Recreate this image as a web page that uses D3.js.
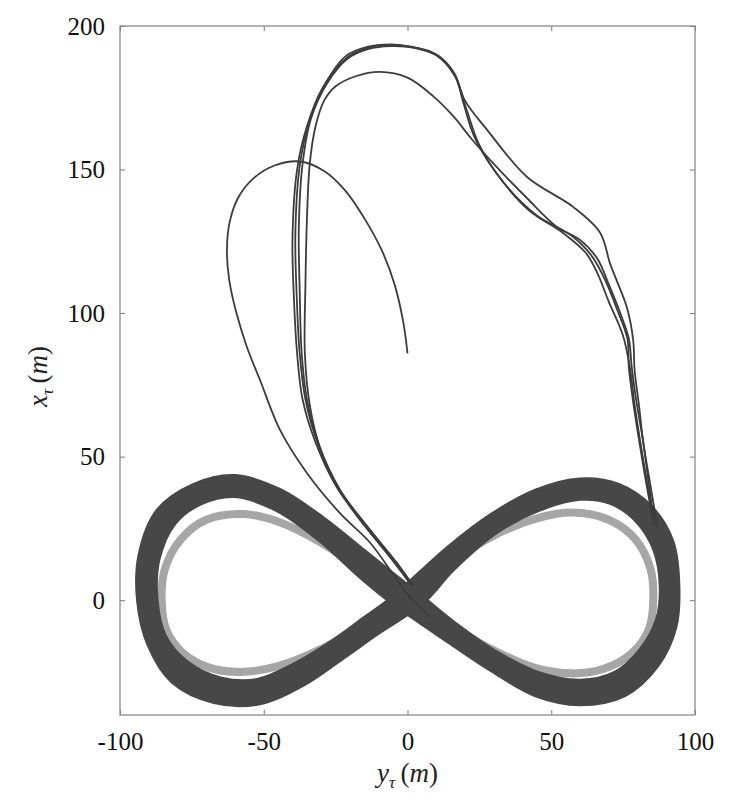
<!DOCTYPE html>
<html>
<head>
<meta charset="utf-8">
<script src="https://cdn.jsdelivr.net/npm/d3@7"></script>
<style>
  body { margin: 0; background: #fff; }
  svg { display: block; }
  .tick text { font-family: "Liberation Serif", serif; font-size: 25px; fill: #111; }
  .axis path.domain { display: none; }
  .axis .tick line { stroke: #777; stroke-width: 1; }
</style>
</head>
<body>
<svg width="732" height="800"></svg>
<script>
var svg = d3.select("svg");

// tick values
var xTicks = [-100, -50, 0, 50, 100];
var yTicks = [0, 50, 100, 150, 200];

// reference figure-eight (gray), [y_tau, x_tau]
var reference = [
  [0, 0], [15, 13], [30, 22.5], [45, 28.5], [57, 30.5], [70, 28], [79, 21.5], [84.5, 11], [85.5, 0],
  [84, -10], [78, -18.5], [68, -24], [57, -25.5], [44, -23.5], [30, -17.5], [15, -9],
  [0, 0], [-15, 10], [-30, 20], [-44, 27], [-57, 30], [-70, 28], [-79, 21], [-84.5, 10.5], [-85.5, 0],
  [-84, -10], [-78, -18.5], [-69, -23.5], [-58, -25], [-45, -23], [-30, -17], [-15, -8.5]
];

// converged trajectory band: three loops that cross near the origin
var bandLoopA = [
  [-4.5, 0], [15, 17.5], [30, 28.8], [45, 37], [60, 40.8], [73, 39], [84, 31.5], [91, 20], [93, 5],
  [92, -9], [86, -22], [75, -32], [60, -35], [45, -32], [30, -23.5], [15, -13.5],
  [-4.5, 0], [-15, 8.5], [-30, 22], [-45, 32.5], [-60, 37.5], [-72, 35], [-82, 27.5], [-87.8, 14.5], [-88.5, 0],
  [-85.5, -13], [-77.5, -22.5], [-65, -28.5], [-52, -29], [-39, -23.5], [-25, -15], [-14, -7]
];
var bandMiddle = [
  [0, 0], [15, 14.5], [30, 26.8], [45, 34.8], [60, 38.6], [72, 37], [82, 30], [89, 19], [91.2, 5],
  [90, -8], [84, -20], [74, -29], [60, -32.2], [45, -29], [30, -21], [15, -11],
  [0, 0], [-15, 12], [-30, 25], [-45, 35], [-60, 39.8], [-73, 37], [-84, 29], [-90, 15], [-90.5, 0],
  [-87, -14], [-79, -25], [-66, -31.5], [-52, -32], [-38, -26], [-24, -17], [-12, -8.3]
];
var bandLoopB = [
  [4.5, 0], [15, 11.5], [30, 24.5], [45, 32.5], [60, 36.5], [71, 35], [80.5, 28.5], [87, 18], [89.3, 5],
  [88, -7], [82, -18], [72.5, -26.5], [60, -29.3], [45, -26.5], [30, -19], [15, -8.5],
  [4.5, 0], [-15, 15.5], [-30, 27.5], [-45, 37.3], [-60, 42], [-74, 39], [-86, 30.5], [-92, 15.5], [-92.5, 0],
  [-89, -15], [-81, -27.5], [-67, -34.3], [-52, -34.8], [-37, -28.5], [-23, -19], [-11, -10.5]
];

// transient passes (thin lines)
var transientStart = [
  [0, 86], [-1.5, 97], [-4.5, 110], [-9, 122], [-15, 133], [-21.5, 142.5], [-29, 149.5], [-37.4, 152.8],
  [-46, 151.5], [-53.5, 147], [-59, 140], [-62, 131], [-62.8, 121], [-62, 111.5], [-59.5, 100],
  [-55.8, 88], [-51.3, 76.7], [-44.3, 59.2], [-35, 44.3], [-23.5, 30.3], [-13, 20], [-5, 9], [0, 2], [8, -6]
];
var transientA = [
  [86, 26], [84, 40], [82, 55], [79.5, 70], [78, 81], [77, 91], [74, 100], [70, 110], [66, 119],
  [60, 125.5], [52, 130], [41.6, 140], [30, 152], [22, 161], [16, 168.5], [9, 175.5], [0, 182],
  [-9.6, 184], [-18, 182.5], [-25, 179], [-29, 174], [-32, 165], [-34, 152], [-35, 132], [-35.5, 110],
  [-35.7, 86], [-34, 68], [-30.4, 53], [-23.5, 38], [-13, 24.4], [-3.7, 13], [2, 5]
];
var transientB = [
  [87, 25], [84.5, 40], [82, 55], [80.5, 68], [79, 80], [78.5, 90.6], [76.3, 102], [72.5, 112],
  [70.4, 117.4], [67, 128], [57.6, 137], [41.6, 147.4], [27.7, 163.8], [20, 174], [16.5, 183],
  [11, 189.5], [4.3, 192], [-6, 193.4], [-14, 192.3], [-21, 189], [-29.4, 178.7], [-35, 165],
  [-38.4, 150], [-40, 126.5], [-39.5, 105], [-38.4, 86], [-36.5, 70], [-32, 55], [-25, 40],
  [-15, 26], [-5, 14], [1, 6]
];
var transientC = [
  [86, 26], [83.5, 40], [81, 55], [79, 68], [77.5, 80], [75, 92], [70, 104], [66, 114], [62, 121],
  [54, 128], [42, 136], [30, 150], [23, 162], [19.5, 173], [16, 184], [9, 190.6], [0, 193],
  [-6, 193.6], [-14, 192.7], [-21.5, 189.5], [-28.5, 180], [-34, 167], [-37.4, 152], [-39, 128],
  [-38.5, 105], [-37.5, 86], [-35.5, 70], [-31, 54], [-24, 39], [-14, 25], [-4.5, 13], [1.5, 5]
];
var transientD = [
  [85.5, 27], [83, 41], [80.5, 56], [78.5, 69], [77, 81], [76.5, 91], [73, 101], [69, 111], [64, 120],
  [57, 127], [45, 134], [33, 146], [25, 158.5], [20.5, 171], [16.5, 182.5], [10, 189.8], [2, 192.5],
  [-6, 193], [-13.5, 192], [-21, 188.5], [-28, 180], [-33.5, 168], [-36.5, 152], [-37.8, 130],
  [-37.5, 108], [-36.8, 86], [-35, 70], [-30.8, 54], [-23.5, 38.5], [-13.5, 25], [-4, 13], [1.5, 5]
];

var plotLeft = 120, plotRight = 695, plotTop = 26, plotBottom = 715;

var x = d3.scaleLinear().domain([-100, 100]).range([plotLeft, plotRight]);
var y = d3.scaleLinear().domain([-40, 200]).range([plotBottom, plotTop]);

var closedLine = d3.line()
    .x(function(d) { return x(d[0]); })
    .y(function(d) { return y(d[1]); })
    .curve(d3.curveCatmullRomClosed);

var openLine = d3.line()
    .x(function(d) { return x(d[0]); })
    .y(function(d) { return y(d[1]); })
    .curve(d3.curveCatmullRom);

svg.append("defs").append("clipPath").attr("id", "clip")
    .append("rect")
    .attr("x", plotLeft).attr("y", plotTop)
    .attr("width", plotRight - plotLeft).attr("height", plotBottom - plotTop);

var plot = svg.append("g").attr("clip-path", "url(#clip)");

plot.append("path")
    .attr("d", closedLine(reference))
    .attr("fill", "none")
    .attr("stroke", "#a6a6a6")
    .attr("stroke-width", 8);

plot.selectAll("path.band")
    .data([bandLoopA, bandMiddle, bandLoopB])
    .enter().append("path")
    .attr("class", "band")
    .attr("d", closedLine)
    .attr("fill", "none")
    .attr("stroke", "#474747")
    .attr("stroke-width", 11);

plot.selectAll("path.transient")
    .data([transientStart, transientA, transientB, transientC, transientD])
    .enter().append("path")
    .attr("class", "transient")
    .attr("d", openLine)
    .attr("fill", "none")
    .attr("stroke", "#3c3c3c")
    .attr("stroke-width", 1.8);

// axes with inward ticks on all four sides
svg.append("g")
    .attr("class", "axis")
    .attr("transform", "translate(0," + plotBottom + ")")
    .call(d3.axisBottom(x).tickValues(xTicks).tickSize(-5).tickPadding(17)
          .tickFormat(function(d) { return d < 0 ? "-" + Math.abs(d) : d; }));

svg.append("g")
    .attr("class", "axis")
    .attr("transform", "translate(0," + plotTop + ")")
    .call(d3.axisTop(x).tickValues(xTicks).tickSize(-5).tickFormat(""));

svg.append("g")
    .attr("class", "axis")
    .attr("transform", "translate(" + plotLeft + ",0)")
    .call(d3.axisLeft(y).tickValues(yTicks).tickSize(-5).tickPadding(15));

svg.append("g")
    .attr("class", "axis")
    .attr("transform", "translate(" + plotRight + ",0)")
    .call(d3.axisRight(y).tickValues(yTicks).tickSize(-5).tickFormat(""));

svg.append("rect")
    .attr("x", plotLeft).attr("y", plotTop)
    .attr("width", plotRight - plotLeft).attr("height", plotBottom - plotTop)
    .attr("fill", "none")
    .attr("stroke", "#8a8a8a")
    .attr("stroke-width", 1.3);

// axis labels
function axisLabel(g, main) {
  g.attr("font-family", "Liberation Serif, serif").attr("font-size", 27).attr("fill", "#222");
  g.append("tspan").attr("font-style", "italic").text(main);
  g.append("tspan").attr("font-style", "italic").attr("font-size", 17).attr("dy", 6).text("\u03c4");
  g.append("tspan").attr("dy", -6).text("\u2009(");
  g.append("tspan").attr("font-style", "italic").text("m");
  g.append("tspan").text(")");
}

svg.append("text")
    .attr("x", (plotLeft + plotRight) / 2)
    .attr("y", 782)
    .attr("text-anchor", "middle")
    .call(axisLabel, "y");

svg.append("text")
    .attr("transform", "translate(47," + ((plotTop + plotBottom) / 2 + 6) + ") rotate(-90)")
    .attr("text-anchor", "middle")
    .call(axisLabel, "x");
</script>
</body>
</html>
